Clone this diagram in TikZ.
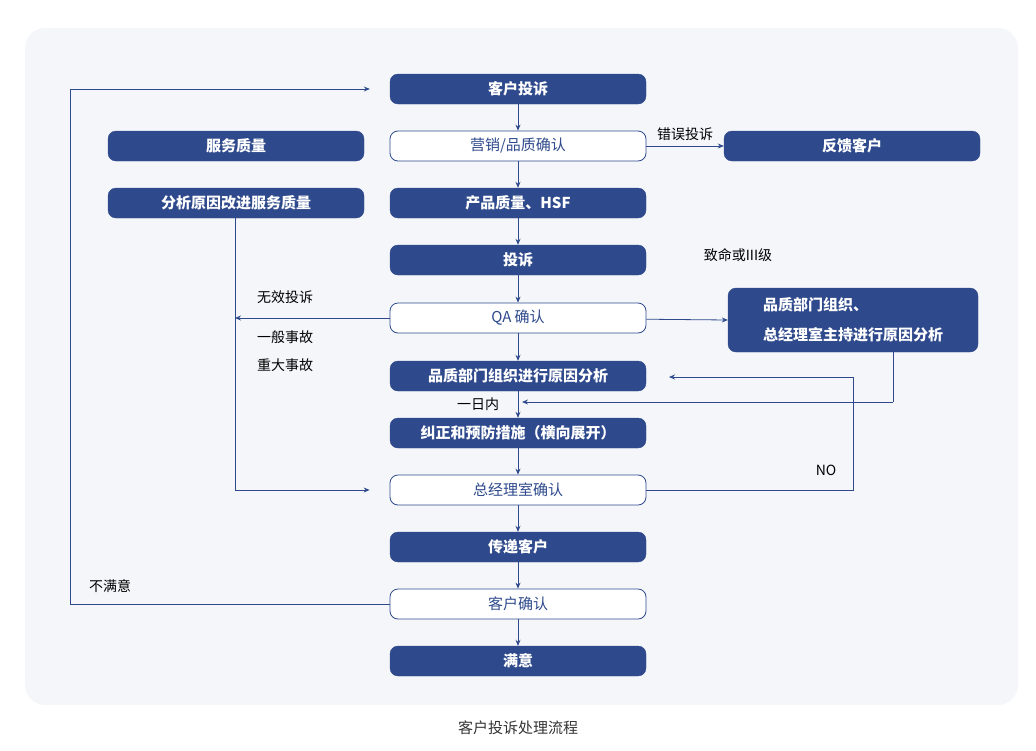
\documentclass[tikz,border=0pt]{standalone}
\usepackage{fontspec}
\setmainfont{Noto Sans CJK SC}
\usetikzlibrary{arrows.meta}
\definecolor{navy}{HTML}{2F4A8C}
\definecolor{bg}{HTML}{F4F6FA}
\begin{document}
\begin{tikzpicture}[x=1pt,y=-1pt,
  fill box/.style={draw=navy,fill=navy,text=white,rounded corners=8pt,minimum width=256pt,minimum height=30pt,font=\fontsize{15}{18}\selectfont\bfseries,inner sep=0pt},
  line box/.style={draw=navy,fill=white,text=navy,rounded corners=8pt,minimum width=256pt,minimum height=30pt,font=\fontsize{15}{18}\selectfont,inner sep=0pt,line width=0.8pt},
  arr/.style={draw=navy,line width=0.8pt,-{Stealth[length=6pt,width=5pt]}},
  ln/.style={draw=navy,line width=0.8pt},
  lab/.style={font=\fontsize{14}{17}\selectfont,text=black}]
\useasboundingbox (0,0) rectangle (1036,750);
\fill[bg,rounded corners=20pt] (25,28) rectangle (1018,705);
\node[fill box] (a) at (518,89) {客户投诉};
\node[line box] (b) at (518,146) {营销/品质确认};
\node[fill box] (c) at (518,203) {产品质量、HSF};
\node[fill box] (d) at (518,260) {投诉};
\node[line box] (e) at (518,318) {QA 确认};
\node[fill box] (f) at (518,376) {品质部门组织进行原因分析};
\node[fill box] (g) at (518,433) {纠正和预防措施（横向展开）};
\node[line box] (h) at (518,490) {总经理室确认};
\node[fill box] (i) at (518,547) {传递客户};
\node[line box] (j) at (518,604) {客户确认};
\node[fill box] (k) at (518,661) {满意};
\node[fill box] (s1) at (236,146) {服务质量};
\node[fill box] (s2) at (236,203) {分析原因改进服务质量};
\node[fill box] (r1) at (852,146) {反馈客户};
\node[fill box,minimum width=250pt,minimum height=64pt,align=left,font=\fontsize{15}{30}\selectfont\bfseries] (r2) at (853,320) {品质部门组织、\\总经理室主持进行原因分析};
\foreach \u/\v in {a/b,b/c,c/d,d/e,e/f,f/g,g/h,h/i,i/j,j/k}
  \draw[arr] (\u) -- (\v);
\draw[arr] (b) -- (r1.west) node[pos=0.5,above=2pt,lab]{错误投诉};
\draw[arr] (e) -- (r2.west);
\node[lab] (t1) at (738,255) {致命或III级};
\coordinate (p1) at (893,402);
\coordinate (p2) at (522,402);
\draw[ln] (r2.south -| p1) -- (p1);
\draw[arr] (p1) -- (p2);
\node[lab] (t2) at (478,404) {一日内};
\coordinate (q1) at (853,490);
\coordinate (q2) at (853,377);
\draw[ln] (h.east) -- (q1) -- (q2);
\draw[arr] (q2) -- (669,377);
\node[lab] (t3) at (826,470) {NO};
\coordinate (l1) at (235,318);
\draw[arr] (e.west) -- (l1);
\node[lab] (t4) at (285,297) {无效投诉};
\node[lab] (t5) at (285,337) {一般事故};
\node[lab] (t6) at (285,365) {重大事故};
\coordinate (m1) at (235,490);
\draw[ln] (s2.south -| m1) -- (m1);
\draw[arr] (m1) -- ([xshift=-20pt]h.west);
\coordinate (n1) at (70,604);
\coordinate (n2) at (70,89);
\draw[ln] (j.west) -- (n1) -- (n2);
\draw[arr] (n2) -- ([xshift=-20pt]a.west);
\node[lab] (t7) at (110,586) {不满意};
\node[font=\fontsize{15}{18}\selectfont,text=black!80] (cap) at (518,728) {客户投诉处理流程};
\end{tikzpicture}
\end{document}
